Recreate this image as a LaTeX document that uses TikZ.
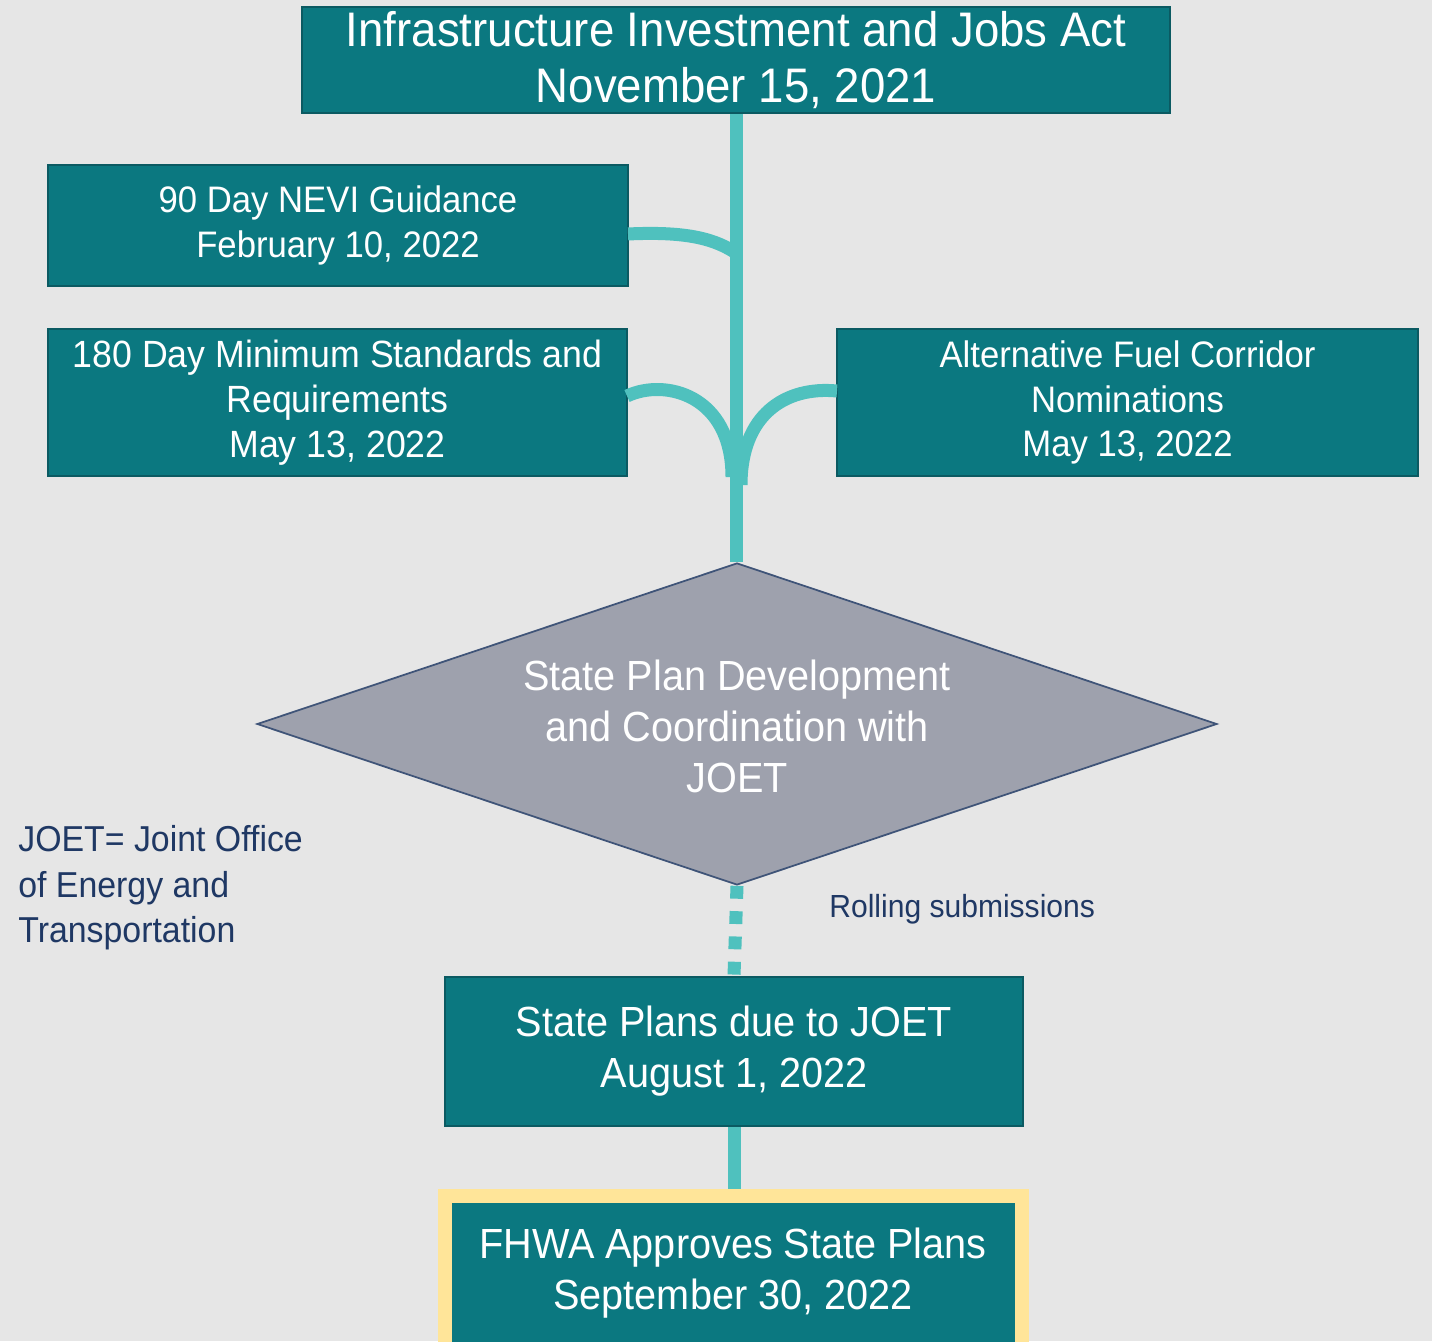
\documentclass[tikz,border=0pt]{standalone}
\usepackage{fontspec}
\setmainfont{Liberation Sans}[FakeStretch=0.94]
\usetikzlibrary{shapes.geometric}
\definecolor{bgc}{HTML}{E6E6E6}
\definecolor{tealA}{HTML}{0B7880}
\definecolor{tealD}{HTML}{0B5A62}
\definecolor{connc}{HTML}{4FC1BE}
\definecolor{diafill}{HTML}{9EA1AD}
\definecolor{diaedge}{HTML}{3F5478}
\definecolor{navy}{HTML}{1F3864}
\definecolor{gold}{HTML}{FFE599}
\newcommand\pxu{0.02cm}
\tikzset{
  tbox/.style={rectangle, draw=tealD, line width=1.2pt, fill=tealA, text=white, align=center, inner sep=0pt},
  fsmall/.style={font=\fontsize{21}{25.5}\selectfont},
  fbig/.style={font=\fontsize{24}{29}\selectfont},
  conn/.style={draw=connc, line width=7.4pt},
  navytext/.style={text=navy, inner sep=0pt}
}
\begin{document}
\begin{tikzpicture}[x=\pxu, y=-\pxu]
\fill[bgc] (0,0) rectangle (1432,1341);
\useasboundingbox (0,0) rectangle (1432,1341);

% boxes
\node[tbox, minimum width={868*\pxu}, minimum height={106*\pxu}, font=\fontsize{27.6}{32.3}\selectfont] (top) at (736,60)
  {Infrastructure Investment and Jobs Act\\November 15, 2021};
\node[tbox, fsmall, minimum width={580*\pxu}, minimum height={121*\pxu}] (nevi) at (338,225.5)
  {90 Day NEVI Guidance\\February 10, 2022};
\node[tbox, font=\fontsize{21.6}{25.5}\selectfont, minimum width={579*\pxu}, minimum height={147*\pxu}] (std) at (337.5,402.5)
  {180 Day Minimum Standards and\\Requirements\\May 13, 2022};
\node[tbox, fsmall, minimum width={581*\pxu}, minimum height={147*\pxu}] (afc) at (1127.5,402.5)
  {Alternative Fuel Corridor\\Nominations\\May 13, 2022};

\node[diamond, draw=diaedge, line width=1pt, fill=diafill, minimum width={960*\pxu}, minimum height={322*\pxu}, inner sep=0pt] (dia) at (737,724) {};
\node[fbig, text=white, align=center, inner sep=0pt] (diatext) at (737,726)
  {State Plan Development\\and Coordination with\\JOET};

\node[font=\fontsize{20.5}{25.8}\selectfont, navytext, align=left, anchor=west] (note) at (18,888)
  {JOET= Joint Office\\of Energy and\\Transportation};
\node[navytext, anchor=west, font=\fontsize{18.2}{22}\selectfont] (rolling) at (829,909) {Rolling submissions};

\node[tbox, fbig, minimum width={578*\pxu}, minimum height={149*\pxu}] (state) at (734,1051.5)
  {State Plans due to JOET\\August 1, 2022};

\node[rectangle, draw=gold, line width={14*\pxu}, fill=tealA, minimum width={577*\pxu}, minimum height={160*\pxu}, inner sep=0pt] (fhwa) at (733,1276) {};
\node[fbig, text=white, align=center, inner sep=0pt] (fhwatext) at (733,1273)
  {FHWA Approves State Plans\\September 30, 2022};

% connectors
\coordinate (j1) at (736,253);
\coordinate (j2) at (732,477);
\coordinate (j3) at (741,485);
\coordinate (s1) at (628,234);
\coordinate (s2) at (627,396);
\coordinate (s3) at (837,391);

\draw[conn] (top.south) -- (top.south |- dia.north);
\draw[conn] (s1) .. controls (690,231) and (716,240) .. (j1);
\draw[conn] (s2) .. controls (665,378) and (732,395) .. (j2);
\draw[conn] (s3) .. controls (785,386) and (741,415) .. (j3);
\draw[conn, dash pattern=on 7.3pt off 7.1pt] (dia.south) -- (state.north);
\draw[conn] (state.south) -- (state.south |- fhwa.north);
\end{tikzpicture}
\end{document}
